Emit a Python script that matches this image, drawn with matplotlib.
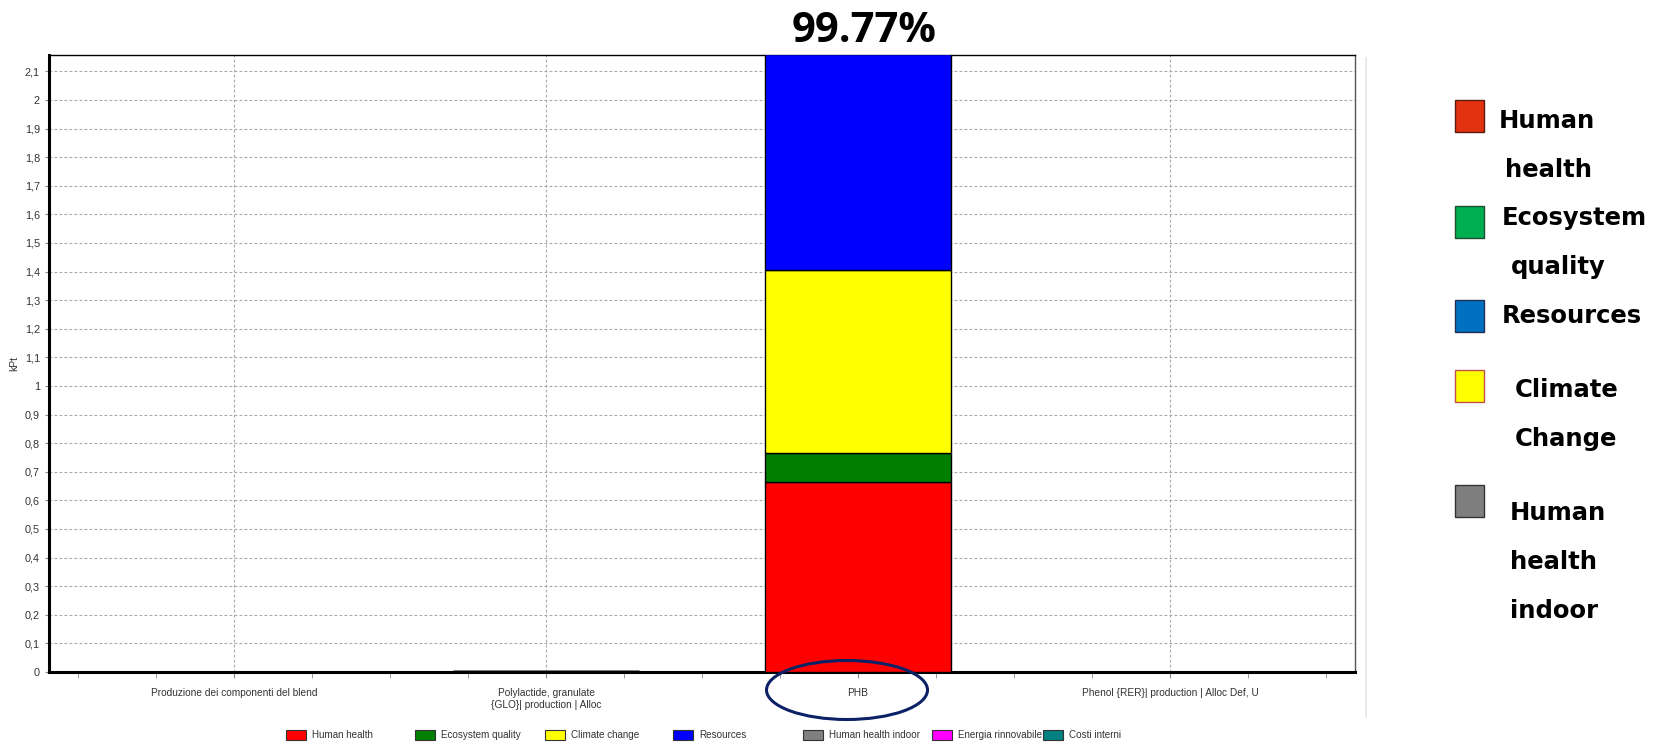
import matplotlib
matplotlib.use("Agg")
import matplotlib.pyplot as plt
from matplotlib.patches import Rectangle, Ellipse
from matplotlib.ticker import FuncFormatter, MultipleLocator
from matplotlib.lines import Line2D
import numpy as np

# dati (kPt)
categories = ["Produzione dei componenti del blend",
              "Polylactide, granulate\n{GLO}| production | Alloc",
              "PHB",
              "Phenol {RER}| production | Alloc Def, U"]
human_health = [0.0, 0.0015, 0.663, 0.0]
ecosystem_quality = [0.0, 0.0005, 0.103, 0.0]
climate_change = [0.0, 0.0015, 0.638, 0.0]
resources = [0.0, 0.001, 0.755, 0.0]

series_names = ["Human health", "Ecosystem quality", "Climate change", "Resources",
                "Human health indoor", "Energia rinnovabile", "Costi interni"]
series_colors = ["#ff0000", "#007f00", "#ffff00", "#0000ff", "#808080", "#ff00ff", "#008080"]

side_labels = ["Human\nhealth", "Ecosystem\nquality", "Resources", "Climate\nChange", "Human\nhealth\nindoor"]
side_colors = ["#e33210", "#00b050", "#0070c0", "#ffff00", "#7f7f7f"]
side_edges = ["#5a1a10", "#1f4d2f", "#1f3050", "#c0504d", "#333333"]
highlight = "99.77%"

W, H = 1653, 742
fig = plt.figure(figsize=(W / 100, H / 100), dpi=100)
fig.patch.set_facecolor("white")

def fx(px):
    return px / W

def fy(py):
    return 1 - py / H

small = "Liberation Sans"
ax = fig.add_axes([fx(49), fy(672), fx(1355) - fx(49), fy(55) - fy(672)])

x = np.arange(len(categories))
stack = [human_health, ecosystem_quality, climate_change, resources]
bottom = np.zeros(len(categories))
for vals, col in zip(stack, series_colors[:4]):
    ax.bar(x, vals, width=0.593, bottom=bottom, color=col, edgecolor="black",
           linewidth=1.0, zorder=3)
    bottom += np.array(vals)

ax.set_xlim(-0.593, 3.593)
ax.set_ylim(0, 2.157)
ax.yaxis.set_major_locator(MultipleLocator(0.1))

def comma(v, pos):
    s = f"{v:.1f}".rstrip("0").rstrip(".")
    return s.replace(".", ",")

ax.yaxis.set_major_formatter(FuncFormatter(comma))
ax.set_xticks(x)
ax.set_xticklabels(categories, fontsize=7.3, color="#333333", family=small)
ax.xaxis.set_minor_locator(MultipleLocator(0.25))
ax.tick_params(axis="y", labelsize=7.8, labelcolor="#333333", length=3, color="#888888")
for t in ax.get_yticklabels():
    t.set_family(small)
ax.tick_params(axis="x", which="both", length=4, color="#888888", pad=7.5)
ax.set_ylabel("kPt", fontsize=7.5, color="#333333", labelpad=4, family=small)

ax.grid(True, axis="both", linestyle=(0, (2.5, 2)), color="#a8a8a8", linewidth=0.8, zorder=0)
ax.set_axisbelow(True)
for s in ["left", "bottom"]:
    ax.spines[s].set_linewidth(2.2)
    ax.spines[s].set_color("black")
ax.spines["top"].set_linewidth(1.0)
ax.spines["right"].set_linewidth(1.0)
ax.spines["right"].set_color("#555555")

# percentuale sopra la barra
fig.text(fx(864), fy(32), highlight, ha="center", va="center", fontsize=30,
         fontweight="bold", family="Open Sans", color="black")

# ellisse su PHB
fig.patches.append(Ellipse((fx(847), fy(690)), fx(161), 59 / H, transform=fig.transFigure,
                           fill=False, edgecolor="#0d2266", linewidth=2.2))

# legenda in basso
leg_x = [286, 415, 545, 673, 803, 932, 1043]
for name, col, lx in zip(series_names, series_colors, leg_x):
    fig.patches.append(Rectangle((fx(lx), fy(740)), fx(20), 10 / H, transform=fig.transFigure,
                                 facecolor=col, edgecolor="#333333", linewidth=0.8))
    fig.text(fx(lx + 26), fy(735), name, ha="left", va="center", fontsize=7.1,
             color="#333333", family=small)

# riquadro a destra
fig.add_artist(Line2D([fx(1366), fx(1366)], [fy(58), fy(717)], transform=fig.transFigure,
                      color="#e6e6e6", linewidth=1.2))
sq_y = [100, 206, 300, 370, 485]
txt_y = [121, 218, 316, 390, 513]
txt_x = [1499, 1502, 1502, 1515, 1510]
for lab, col, ec, sy, ty, tx in zip(side_labels, side_colors, side_edges, sq_y, txt_y, txt_x):
    fig.patches.append(Rectangle((fx(1455), fy(sy + 32)), fx(29), 32 / H, transform=fig.transFigure,
                                 facecolor=col, edgecolor=ec, linewidth=1.0))
    for i, line in enumerate(lab.split("\n")):
        off = 6 if (i > 0 and lab.startswith("Human\nhealth") and tx < 1505) else 0
        if lab.startswith("Ecosystem") and i > 0:
            off = 9
        fig.text(fx(tx + off), fy(ty + i * 49), line, ha="left", va="center",
                 fontsize=17.5, fontweight="bold", color="black")

fig.savefig("out.png", dpi=100)
